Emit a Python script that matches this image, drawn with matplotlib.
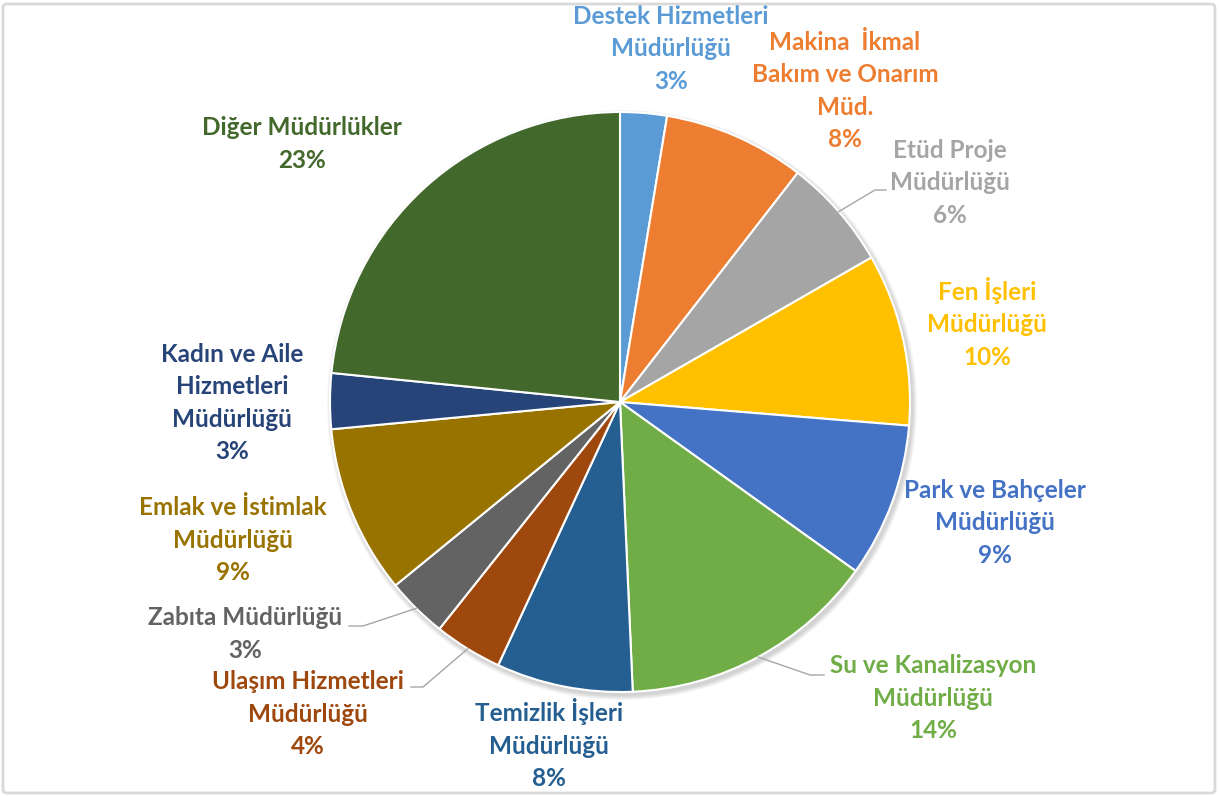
import numpy as np
import matplotlib
matplotlib.use("Agg")
import matplotlib.pyplot as plt
from matplotlib.patches import FancyBboxPatch, Circle

# slice data (clockwise from 12 o'clock)
names = [
    "Destek Hizmetleri\nMüdürlüğü",
    "Makina  İkmal\nBakım ve Onarım\nMüd.",
    "Etüd Proje\nMüdürlüğü",
    "Fen İşleri\nMüdürlüğü",
    "Park ve Bahçeler\nMüdürlüğü",
    "Su ve Kanalizasyon\nMüdürlüğü",
    "Temizlik İşleri\nMüdürlüğü",
    "Ulaşım Hizmetleri\nMüdürlüğü",
    "Zabıta Müdürlüğü",
    "Emlak ve İstimlak\nMüdürlüğü",
    "Kadın ve Aile\nHizmetleri\nMüdürlüğü",
    "Diğer Müdürlükler",
]
shares = [2.6, 7.9, 6.2, 9.6, 8.6, 14.4, 7.6, 3.8, 3.4, 9.4, 3.1, 23.4]
colors = ["#5B9BD5", "#ED7D31", "#A5A5A5", "#FFC000", "#4472C4", "#70AD47",
          "#255E91", "#9E480E", "#636363", "#997300", "#264478", "#43682B"]

# label centres in pixels (x, y from top)
label_pos = [(671, 49), (845, 91), (950, 183), (987, 323), (995, 523),
             (933, 698), (549, 744), (308, 714), (245, 634), (233, 540),
             (232, 403), (302, 144)]
# slices that get a leader line: index -> (elbow x, elbow y, end x)
leaders = {2: (875, 190, 886), 5: (810, 675, 824),
           7: (423, 687, 411), 8: (363, 626, 349)}

W, H = 1219, 796
fig = plt.figure(figsize=(W / 100, H / 100), dpi=100)
ax = fig.add_axes([0, 0, 1, 1])

cx, cy, r = 620, H - 402, 290
# soft shadow under the pie
for k in range(1, 6):
    ax.add_patch(Circle((cx + 2, cy - 3), r + k, color="black", alpha=0.035, lw=0))
wedges, _ = ax.pie(shares, colors=colors, startangle=90, counterclock=False,
                   radius=r, center=(cx, cy), frame=True,
                   wedgeprops=dict(edgecolor="white", linewidth=1.5))
ax.set_xlim(0, W)
ax.set_ylim(0, H)
ax.set_aspect("equal")
ax.axis("off")

total = sum(shares)
for i, (nm, v) in enumerate(zip(names, shares)):
    x, y = label_pos[i]
    ax.text(x, H - y, f"{nm}\n{v / total * 100:.0f}%", ha="center", va="center",
            color=colors[i], fontsize=17.5, fontweight="bold", family="Lato",
            linespacing=1.5)
    if i in leaders:
        w = wedges[i]
        mid = np.deg2rad((w.theta1 + w.theta2) / 2)
        px, py = cx + r * np.cos(mid), cy + r * np.sin(mid)
        ex, ey, tx = leaders[i]
        ax.plot([px, ex, tx], [py, H - ey, H - ey], color="#A6A6A6", lw=1)

fig.patches.append(FancyBboxPatch((3, 3), W - 7, H - 7, boxstyle="round,pad=0,rounding_size=4",
                                  transform=None, fill=False, edgecolor="#D9D9D9", lw=2))

fig.savefig("out.png", dpi=100, facecolor="white")
